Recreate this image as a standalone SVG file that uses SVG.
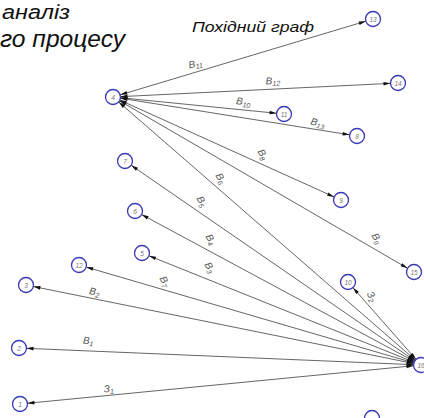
<svg xmlns="http://www.w3.org/2000/svg" width="424" height="418" viewBox="0 0 424 418">
<style>
.title{font-family:"Liberation Sans",Arial,sans-serif;font-style:italic;fill:#111;}
.e{stroke:#555;stroke-width:0.9;fill:none;marker-start:url(#ah);marker-end:url(#ah);}
.n circle{fill:#fff;stroke:#3838b8;stroke-width:1.3;}
.n text{font-family:"Liberation Sans",Arial,sans-serif;font-style:italic;font-size:6.5px;fill:#777;text-anchor:middle;}
.lb{font-family:"Liberation Sans",Arial,sans-serif;font-style:italic;font-size:10px;fill:#555;text-anchor:middle;}
.lb tspan{font-size:7px;}
</style>
<defs>
<marker id="ah" markerUnits="userSpaceOnUse" markerWidth="20" markerHeight="20" refX="0" refY="0" orient="auto-start-reverse" overflow="visible">
<path d="M-7.5,0 L-14.5,-1.8 L-14.5,1.8 Z" fill="#111"/>
</marker>
</defs>
<rect width="424" height="418" fill="#fff"/>
<text class="title" x="2" y="19" font-size="20" textLength="68" lengthAdjust="spacingAndGlyphs">аналіз</text>
<text class="title" x="0" y="47" font-size="23" textLength="125" lengthAdjust="spacingAndGlyphs">го процесу</text>
<text class="title" x="192" y="32" font-size="15" textLength="122" lengthAdjust="spacingAndGlyphs">Похідний граф</text>
<g id="connectors">
<line class="e" x1="113" y1="97" x2="373" y2="19"/>
<line class="e" x1="113" y1="97" x2="398" y2="83"/>
<line class="e" x1="113" y1="97" x2="284" y2="114"/>
<line class="e" x1="113" y1="97" x2="357" y2="136"/>
<line class="e" x1="113" y1="97" x2="341" y2="200"/>
<line class="e" x1="113" y1="97" x2="414" y2="272"/>
<line class="e" x1="113" y1="97" x2="421" y2="365"/>
<line class="e" x1="421" y1="365" x2="125" y2="161"/>
<line class="e" x1="421" y1="365" x2="135" y2="211"/>
<line class="e" x1="421" y1="365" x2="142" y2="253"/>
<line class="e" x1="421" y1="365" x2="79" y2="265"/>
<line class="e" x1="421" y1="365" x2="26" y2="285"/>
<line class="e" x1="421" y1="365" x2="19" y2="348"/>
<line class="e" x1="421" y1="365" x2="20" y2="404"/>
<line class="e" x1="421" y1="365" x2="348" y2="282"/>
<text class="lb" transform="translate(196,67) rotate(-12)">В<tspan dy="2">11</tspan></text>
<text class="lb" transform="translate(273,84) rotate(-3)">В<tspan dy="2">12</tspan></text>
<text class="lb" transform="translate(243,105) rotate(8)">В<tspan dy="2">10</tspan></text>
<text class="lb" transform="translate(317,126) rotate(15)">В<tspan dy="2">13</tspan></text>
<text class="lb" transform="translate(260,156) rotate(60)">В<tspan dy="2">8</tspan></text>
<text class="lb" transform="translate(374,240) rotate(60)">В<tspan dy="2">9</tspan></text>
<text class="lb" transform="translate(218,180) rotate(60)">В<tspan dy="2">6</tspan></text>
<text class="lb" transform="translate(199,203) rotate(60)">В<tspan dy="2">5</tspan></text>
<text class="lb" transform="translate(208,241) rotate(60)">В<tspan dy="2">4</tspan></text>
<text class="lb" transform="translate(207,269) rotate(60)">В<tspan dy="2">3</tspan></text>
<text class="lb" transform="translate(162,283) rotate(60)">В<tspan dy="2">7</tspan></text>
<text class="lb" transform="translate(94,295) rotate(10)">В<tspan dy="2">2</tspan></text>
<text class="lb" transform="translate(88,344) rotate(5)">В<tspan dy="2">1</tspan></text>
<text class="lb" transform="translate(109,392) rotate(-5)">З<tspan dy="2">1</tspan></text>
<text class="lb" transform="translate(369,298) rotate(60)">З<tspan dy="2">2</tspan></text>
</g>
<g id="n4" class="n"><circle cx="113" cy="97" r="7.5"/><text x="113" y="99.5">4</text></g>
<g id="n13" class="n"><circle cx="373" cy="19" r="7.5"/><text x="373" y="21.5">13</text></g>
<g id="n14" class="n"><circle cx="398" cy="83" r="7.5"/><text x="398" y="85.5">14</text></g>
<g id="n11" class="n"><circle cx="284" cy="114" r="7.5"/><text x="284" y="116.5">11</text></g>
<g id="n8" class="n"><circle cx="357" cy="136" r="7.5"/><text x="357" y="138.5">8</text></g>
<g id="n9" class="n"><circle cx="341" cy="200" r="7.5"/><text x="341" y="202.5">9</text></g>
<g id="n15" class="n"><circle cx="414" cy="272" r="7.5"/><text x="414" y="274.5">15</text></g>
<g id="n16" class="n"><circle cx="421" cy="365" r="7.5"/><text x="421" y="367.5">16</text></g>
<g id="n10" class="n"><circle cx="348" cy="282" r="7.5"/><text x="348" y="284.5">10</text></g>
<g id="n7" class="n"><circle cx="125" cy="161" r="7.5"/><text x="125" y="163.5">7</text></g>
<g id="n6" class="n"><circle cx="135" cy="211" r="7.5"/><text x="135" y="213.5">6</text></g>
<g id="n5" class="n"><circle cx="142" cy="253" r="7.5"/><text x="142" y="255.5">5</text></g>
<g id="n12" class="n"><circle cx="79" cy="265" r="7.5"/><text x="79" y="267.5">12</text></g>
<g id="n3" class="n"><circle cx="26" cy="285" r="7.5"/><text x="26" y="287.5">3</text></g>
<g id="n2" class="n"><circle cx="19" cy="348" r="7.5"/><text x="19" y="350.5">2</text></g>
<g id="n1" class="n"><circle cx="20" cy="404" r="7.5"/><text x="20" y="406.5">1</text></g>
<g id="n17" class="n"><circle cx="372" cy="418" r="7.5"/></g>
</svg>
